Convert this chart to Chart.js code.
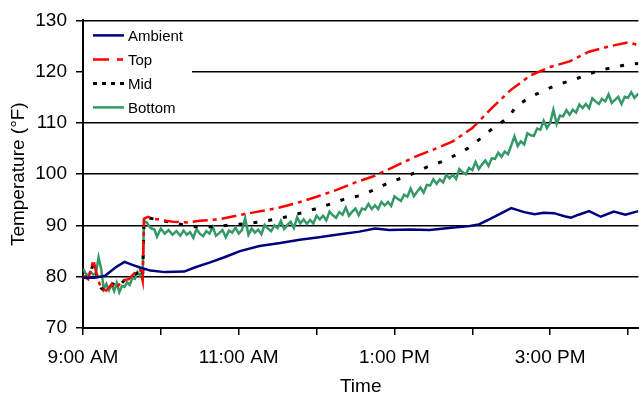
<!DOCTYPE html>
<html>
<head>
<meta charset="utf-8">
<script src="https://cdn.jsdelivr.net/npm/chart.js@4"></script>
<style>
  html, body { margin: 0; padding: 0; background: #fff; }
  #wrap { width: 639px; height: 398px; }
</style>
</head>
<body>
<div id="wrap"><canvas id="myChart" width="639" height="398"></canvas></div>
<script>
// time is minutes after 9:00 AM
const ambientTime = [0, 9, 17, 25, 32, 38, 44, 52, 63, 78, 86, 98, 109, 121, 136, 152, 167, 182, 198, 213, 225, 236, 252, 267, 282, 298, 305, 313, 321, 330, 340, 348, 355, 363, 371, 376, 382, 390, 399, 409, 418, 428];
const ambientTemp = [79.8, 79.8, 80.2, 81.8, 82.9, 82.3, 81.8, 81.2, 80.9, 81.0, 81.8, 82.8, 83.8, 85.0, 86.0, 86.6, 87.2, 87.7, 88.3, 88.8, 89.4, 89.1, 89.2, 89.1, 89.5, 89.9, 90.2, 91.2, 92.2, 93.4, 92.6, 92.2, 92.5, 92.4, 91.8, 91.5, 92.1, 92.8, 91.7, 92.7, 92.1, 92.8];

const topTime = [0, 4, 8, 11, 14, 18, 22, 26, 30, 35, 40, 44, 46, 47, 50, 55, 62, 70, 80, 90, 105, 120, 135, 150, 165, 180, 195, 210, 225, 240, 255, 270, 285, 300, 315, 330, 345, 360, 375, 390, 405, 420, 428];
const topTemp = [80.2, 79.5, 83.3, 80.0, 77.6, 77.3, 78.5, 77.8, 79.3, 79.5, 80.8, 81.5, 79.2, 91.3, 91.7, 91.3, 91.0, 90.7, 90.6, 90.9, 91.2, 92.0, 92.7, 93.4, 94.4, 95.6, 96.9, 98.4, 99.7, 101.5, 103.3, 104.8, 106.4, 109.0, 112.9, 116.5, 119.3, 120.9, 122.0, 123.9, 124.9, 125.7, 125.2];

const midTime = [0, 4, 8, 11, 14, 18, 22, 26, 30, 35, 40, 44, 46, 47, 50, 60, 70, 83, 102, 113, 125, 136, 148, 159, 169, 180, 191, 201, 213, 224, 236, 246, 256, 265, 276, 287, 297, 306, 316, 328, 334, 345, 356, 366, 378, 389, 399, 410, 422, 428];
const midTemp = [80.0, 79.8, 82.5, 80.0, 77.8, 77.0, 78.2, 79.5, 78.8, 80.0, 80.5, 81.0, 80.0, 91.0, 91.5, 91.0, 90.5, 89.8, 89.7, 90.1, 90.3, 90.7, 91.2, 91.8, 92.5, 93.3, 94.2, 95.1, 95.8, 96.9, 98.4, 99.3, 100.3, 101.4, 102.4, 103.7, 105.1, 106.9, 109.0, 111.1, 113.3, 115.1, 116.4, 117.5, 118.4, 119.5, 120.3, 120.9, 121.5, 121.6];

const bottomTime = [0, 3, 6, 8, 10, 12, 14, 16, 18, 20, 22, 24, 26, 28, 30, 32, 34, 36, 38, 40, 42, 44, 46, 47, 49, 52, 55, 57, 60, 63, 66, 69, 72, 75,
  77.5, 80, 82.5, 85, 87.5, 90, 92.5, 95, 97.5, 100, 102.5, 105, 107.5, 110, 112.5, 115, 117.5, 120, 122.5, 125, 127.5, 130, 132.5, 135, 137.5, 140,
  142.5, 145, 147.5, 150, 152.5, 155, 157.5, 160, 162.5, 165, 167.5, 170, 172.5, 175, 177.5, 180, 182.5, 185, 187.5, 190, 192.5, 195, 197.5, 200,
  202.5, 205, 207.5, 210, 212.5, 215, 217.5, 220, 222.5, 225, 227.5, 230, 232.5, 235, 237.5, 240, 242.5, 245, 247.5, 250, 252.5, 255, 257.5, 260,
  262.5, 265, 267.5, 270, 272.5, 275, 277.5, 280, 282.5, 285, 287.5, 290, 292.5, 295, 297.5, 300, 302.5, 305, 307.5, 310, 312.5, 315, 317.5, 320,
  322.5, 325, 327.5, 330, 332.5, 335, 337.5, 340, 342.5, 345, 347.5, 350, 352.5, 355, 357.5, 360, 362.5, 365, 367.5, 370, 372.5, 375, 377.5, 380,
  382.5, 385, 387.5, 390, 392.5, 395, 397.5, 400, 402.5, 405, 407.5, 410, 412.5, 415, 417.5, 420, 422.5, 425, 428];
const bottomTemp = [81.6, 80.2, 80.9, 80.4, 80.8, 83.8, 81.5, 77.6, 78.6, 77.4, 78.5, 77.2, 78.8, 77.0, 78.2, 78.0, 78.9, 78.4, 79.8, 79.6, 80.9, 80.2, 81.2, 90.8, 90.6, 89.5, 89.2, 87.8, 89.4, 88.4, 89.1, 88.2, 88.9, 88.0,
  89.0, 88.2, 88.7, 87.6, 89.3, 88.4, 87.9, 88.9, 88.4, 89.7, 88.0, 88.5, 89.1, 87.7, 89.0, 88.6, 89.6, 88.4, 89.1, 91.4, 88.2, 89.4, 88.6, 89.2, 88.3, 90.1,
  89.4, 88.9, 90.0, 89.5, 90.9, 89.3, 90.1, 90.7, 89.5, 91.6, 90.4, 91.2, 90.3, 91.1, 90.4, 91.9, 91.2, 91.9, 91.0, 92.7, 92.0, 91.5, 92.6, 92.1,
  93.5, 91.9, 92.7, 93.3, 92.0, 93.3, 93.1, 94.2, 93.2, 93.9, 93.2, 94.6, 93.9, 94.6, 93.8, 95.7, 95.2, 94.8, 96.0, 95.6, 97.2, 95.7, 96.6, 97.4,
  96.4, 97.9, 97.8, 99.0, 98.1, 99.0, 98.4, 99.9, 99.2, 99.9, 99.1, 101.0, 100.4, 100.0, 101.2, 100.8, 102.4, 101.0, 101.9, 102.7, 101.6, 103.1, 103.0, 104.2,
  103.4, 104.4, 103.9, 105.6, 107.4, 105.5, 106.4, 105.8, 108.0, 107.6, 107.5, 108.9, 108.7, 110.4, 109.0, 110.0, 112.6, 109.8, 111.4, 111.3, 112.5, 111.6, 112.6, 112.0,
  113.6, 112.9, 113.7, 112.9, 114.8, 114.2, 113.7, 114.7, 114.2, 115.6, 113.9, 114.5, 115.1, 113.7, 115.1, 114.9, 116.0, 114.9, 115.7];

const seriesNames = ['Ambient', 'Top', 'Mid', 'Bottom'];
const yTicks = [70, 80, 90, 100, 110, 120, 130];

function pairs(t, v) {
    return t.map((m, i) => ({ x: m, y: v[i] }));
}

function timeLabel(m) {
    if (m % 120 !== 0) return '';
    const h = 9 + m / 60;
    const ampm = h >= 12 ? 'PM' : 'AM';
    const h12 = h > 12 ? h - 12 : h;
    return h12 + ':00 ' + ampm;
}

const FONT = '"Liberation Sans", Arial, sans-serif';

const legendBox = {
    id: 'legendBox',
    afterDatasetsDraw(chart) {
        const ctx = chart.ctx;
        const a = chart.chartArea;
        ctx.save();
        ctx.fillStyle = '#fff';
        ctx.fillRect(a.left + 1, a.top + 2, 108, 98);
        chart.data.datasets.forEach((ds, i) => {
            const y = a.top + 15 + i * 24;
            ctx.beginPath();
            ctx.strokeStyle = ds.borderColor;
            ctx.lineWidth = ds.borderWidth;
            ctx.setLineDash(ds.legendDash);
            ctx.moveTo(a.left + 10, y);
            ctx.lineTo(a.left + 41, y);
            ctx.stroke();
            ctx.setLineDash([]);
            ctx.fillStyle = '#000';
            ctx.font = '15px ' + FONT;
            ctx.textBaseline = 'middle';
            ctx.fillText(ds.label, a.left + 45, y + 1);
        });
        ctx.restore();
    }
};

new Chart("myChart", {
    type: "line",
    data: {
        datasets: [{
            label: seriesNames[0],
            data: pairs(ambientTime, ambientTemp),
            borderColor: "#000080",
            borderWidth: 2.5,
            legendDash: []
        }, {
            label: seriesNames[1],
            data: pairs(topTime, topTemp),
            borderColor: "#ff0000",
            borderWidth: 2.5,
            borderDash: [15, 5, 4, 5],
            legendDash: [16, 8, 6, 8]
        }, {
            label: seriesNames[2],
            data: pairs(midTime, midTemp),
            borderColor: "#000000",
            borderWidth: 3,
            borderDash: [4, 11],
            legendDash: [4, 5]
        }, {
            label: seriesNames[3],
            data: pairs(bottomTime, bottomTemp),
            borderColor: "#339966",
            borderWidth: 2.5,
            legendDash: []
        }]
    },
    options: {
        responsive: false,
        animation: false,
        layout: { padding: { top: 17, right: 0, bottom: 0, left: 0 } },
        elements: { point: { radius: 0 }, line: { tension: 0 } },
        plugins: {
            legend: { display: false },
            tooltip: { enabled: false }
        },
        scales: {
            x: {
                type: 'linear',
                min: 0,
                max: 428,
                afterFit(scale) { scale.height = 70; },
                afterBuildTicks(scale) {
                    scale.ticks = [];
                    for (let m = 0; m <= 420; m += 60) scale.ticks.push({ value: m });
                },
                ticks: {
                    autoSkip: false,
                    maxRotation: 0,
                    color: '#000',
                    padding: 11,
                    font: { family: FONT, size: 19 },
                    callback: (v) => timeLabel(v)
                },
                grid: {
                    drawOnChartArea: false,
                    color: '#000',
                    tickLength: 7,
                    lineWidth: 1.5
                },
                border: { color: '#000', width: 2 },
                title: {
                    display: true,
                    text: 'Time',
                    color: '#000',
                    font: { family: FONT, size: 19 },
                    padding: { top: 0, bottom: 0 }
                }
            },
            y: {
                min: 70,
                max: 130,
                afterFit(scale) { scale.width = 83; },
                afterBuildTicks(scale) {
                    scale.ticks = yTicks.map(v => ({ value: v }));
                },
                ticks: {
                    color: '#000',
                    padding: 9,
                    font: { family: FONT, size: 19 }
                },
                grid: {
                    color: '#000',
                    lineWidth: 1.5,
                    tickLength: 7
                },
                border: { color: '#000', width: 2 },
                title: {
                    display: true,
                    text: 'Temperature (°F)',
                    color: '#000',
                    font: { family: FONT, size: 19 },
                    padding: { top: 7, bottom: 0 }
                }
            }
        }
    },
    plugins: [legendBox]
});
</script>
</body>
</html>
